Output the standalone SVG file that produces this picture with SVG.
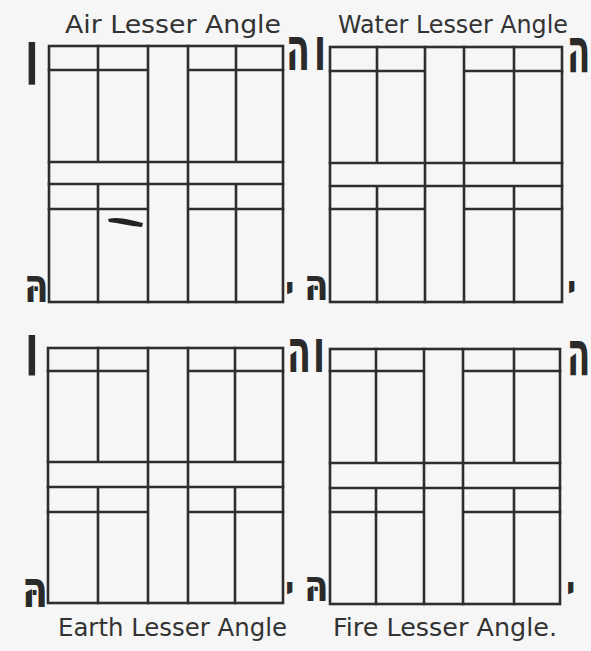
<svg xmlns="http://www.w3.org/2000/svg" width="591" height="651" viewBox="0 0 591 651">
<style>
.bg{fill:#f6f6f7}
.g path,.g rect{fill:none;stroke:#2e2e2e;stroke-width:2.6;stroke-linecap:square}
.t{font-family:"DejaVu Sans","Liberation Sans",sans-serif;font-size:24px;fill:#333}
.h{font-family:"DejaVu Sans","Liberation Sans",sans-serif;font-weight:bold;fill:#2a2a2a}
</style>
<rect class="bg" x="0" y="0" width="591" height="651"/>
<g id="air" class="g">
<rect x="49" y="46" width="234" height="256"/>
<path d="M49,70H148M188,70H283M49,162H283M49,184H283M49,209H148M188,209H283M98,46V162M98,184V302M148,46V302M188,46V302M236,46V162M236,184V302"/>
<path d="M108,219 C118,216 131,220 143,223 L142,227 C130,226 118,223 109,222 Z" style="fill:#222;stroke:none"/>
</g>
<g id="water" class="g">
<rect x="330" y="47" width="232" height="255"/>
<path d="M330,71H425M464,71H562M330,163H562M330,186H562M330,209H425M464,209H562M377,47V163M377,186V302M425,47V302M464,47V302M514,47V163M514,186V302"/>
</g>
<g id="earth" class="g">
<rect x="48" y="348" width="235" height="255"/>
<path d="M48,371H148M188,371H283M48,462H283M48,487H283M48,512H148M188,512H283M98,348V462M98,487V603M148,348V603M188,348V603M235,348V462M235,487V603"/>
</g>
<g id="fire" class="g">
<rect x="330" y="349" width="230" height="255"/>
<path d="M330,371H424M463,371H560M330,463H560M330,488H560M330,512H424M463,512H560M376,349V463M376,488V604M424,349V604M463,349V604M514,349V463M514,488V604"/>
</g>
<g id="titles">
<text class="t" x="65" y="33" textLength="216" lengthAdjust="spacingAndGlyphs">Air Lesser Angle</text>
<text class="t" x="338" y="33" textLength="230" lengthAdjust="spacingAndGlyphs">Water Lesser Angle</text>
<text class="t" x="58" y="636" textLength="229" lengthAdjust="spacingAndGlyphs">Earth Lesser Angle</text>
<text class="t" x="333" y="636" textLength="224" lengthAdjust="spacingAndGlyphs">Fire Lesser Angle.</text>
</g>
<g id="letters">
<text class="h" font-size="40" transform="translate(25,85) scale(1,1.95)">ו</text>
<text class="h" font-size="35" transform="translate(286,70) scale(1,1.7)">ה</text>
<text class="h" font-size="35" transform="translate(314,70) scale(1,1.7)">ו</text>
<text class="h" font-size="34" transform="translate(567,72) scale(1,1.85)">ה</text>
<text class="h" font-size="36" transform="translate(24,302) scale(1,1.3)">הּ</text>
<text class="h" font-size="32" x="285" y="300">י</text>
<text class="h" font-size="36" transform="translate(304,300) scale(1,1.2)">הּ</text>
<text class="h" font-size="32" x="567" y="299">י</text>
<text class="h" font-size="40" transform="translate(25,375) scale(1,1.85)">ו</text>
<text class="h" font-size="35" transform="translate(287,372) scale(1,1.7)">ה</text>
<text class="h" font-size="35" transform="translate(313,372) scale(1,1.7)">ו</text>
<text class="h" font-size="34" transform="translate(567,375) scale(1,1.85)">ה</text>
<text class="h" font-size="38" transform="translate(22,607) scale(1,1.35)">הּ</text>
<text class="h" font-size="32" x="285" y="600">י</text>
<text class="h" font-size="36" transform="translate(304,601) scale(1,1.2)">הּ</text>
<text class="h" font-size="32" x="566" y="600">י</text>
</g>
</svg>
